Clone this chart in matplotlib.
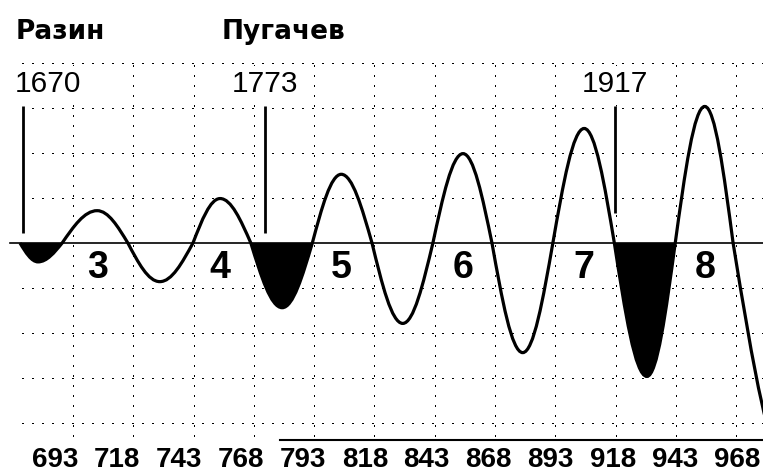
import matplotlib.pyplot as plt
from matplotlib.path import Path
from matplotlib.patches import PathPatch
import matplotlib.patheffects as pe
import numpy as np

# wave turning points: axis crossings and extremes (x in grid cells, y in grid rows)
wave_x = [0.12, 0.42, 0.82, 1.40, 1.91, 2.44, 2.99, 3.44, 3.95, 4.47, 4.97, 5.45, 5.96,
          6.47, 6.97, 7.47, 7.95, 8.46, 8.96, 9.48, 9.98, 10.52, 10.99, 11.48, 11.95, 12.94]
wave_y = [0, -0.42, 0, 0.72, 0, -0.86, 0, 0.99, 0, -1.44, 0, 1.53, 0,
          -1.79, 0, 1.99, 0, -2.44, 0, 2.55, 0, -2.97, 0, 3.04, 0, -5.2]
shaded_dips = [1, 9, 21]          # troughs filled in black

wave_numbers = ["3", "4", "5", "6", "7", "8"]
peak_index = [3, 7, 11, 15, 19, 23]

events = ["1670", "1773", "1917"]
event_x = [0.17, 4.19, 9.99]
event_bottom = [0.22, 0.22, 0.67]
event_top = 3.05

leaders = ["Разин", "Пугачев"]
leader_x = [0.04, 3.47]

scale_labels = ["693", "718", "743", "768", "793", "818",
                "843", "868", "893", "918", "943", "968"]


def segment(x0, y0, x1, y1):
    # quarter-sine shaped cubic between an axis crossing and an extreme
    w = x1 - x0
    if y0 == 0:
        return [(x0 + 0.326 * w, 0.512 * y1), (x0 + 0.638 * w, y1), (x1, y1)]
    return [(x0 + 0.362 * w, y0), (x0 + 0.674 * w, 0.512 * y0), (x1, y1)]


def wave_path(i0, i1, close=False):
    verts = [(wave_x[i0], wave_y[i0])]
    codes = [Path.MOVETO]
    for i in range(i0, i1):
        verts += segment(wave_x[i], wave_y[i], wave_x[i + 1], wave_y[i + 1])
        codes += [Path.CURVE4] * 3
    if close:
        verts.append(verts[0])
        codes.append(Path.CLOSEPOLY)
    return Path(verts, codes)


fig = plt.figure(figsize=(7.63, 4.73), dpi=100)
ax = fig.add_axes([0, 0, 1, 1])
ax.set_xlim(-0.211, 12.446)
ax.set_ylim(-5.12, 5.41)
ax.axis("off")

dots = dict(color="black", lw=0.75, linestyle=(0, (1, 8.6)),
            antialiased=False, zorder=1)
for k in range(1, 13):
    ax.plot([k, k], [-4.3, 4], **dots)
for j in [-4, -3, -2, -1, 1, 2, 3, 4]:
    ax.plot([0.154, 12.446], [j, j], **dots)

ax.plot([-0.045, 12.446], [0, 0], color="black", lw=1.2, zorder=2)
ax.plot([4.43, 12.446], [-4.39, -4.39], color="black", lw=1.5, zorder=2)

for i in shaded_dips:
    ax.add_patch(PathPatch(wave_path(i - 1, i + 1, close=True),
                           facecolor="black", edgecolor="none", zorder=4))
ax.add_patch(PathPatch(wave_path(0, len(wave_x) - 1), facecolor="none",
                       edgecolor="black", lw=2.3, zorder=5))

halo = [pe.Stroke(linewidth=8, foreground="white"), pe.Normal()]
for name, x, y0 in zip(events, event_x, event_bottom):
    ax.plot([x, x], [y0, event_top], color="black", lw=2.0,
            solid_capstyle="butt", path_effects=halo, zorder=3)
    ha = "left" if x < 1 else "center"
    tx = 0.04 if x < 1 else x
    ax.text(tx, 3.36, name, ha=ha, va="baseline", fontsize=21.5,
            family="Liberation Sans", zorder=6,
            bbox=dict(facecolor="white", edgecolor="none", pad=3))

for name, x in zip(leaders, leader_x):
    ax.text(x, 4.54, name, ha="left", va="baseline", fontsize=19,
            family="DejaVu Sans", fontweight="bold")

for label, i in zip(wave_numbers, peak_index):
    ax.text(wave_x[i], -0.78, label, ha="center", va="baseline", fontsize=27,
            family="Liberation Sans", fontweight="bold", zorder=6)

for label, x in zip(scale_labels, np.linspace(0.70, 12.01, len(scale_labels))):
    ax.text(x, -4.99, label, ha="center", va="baseline", fontsize=20,
            family="Liberation Sans", fontweight="bold")

fig.savefig("out.png", dpi=100)
